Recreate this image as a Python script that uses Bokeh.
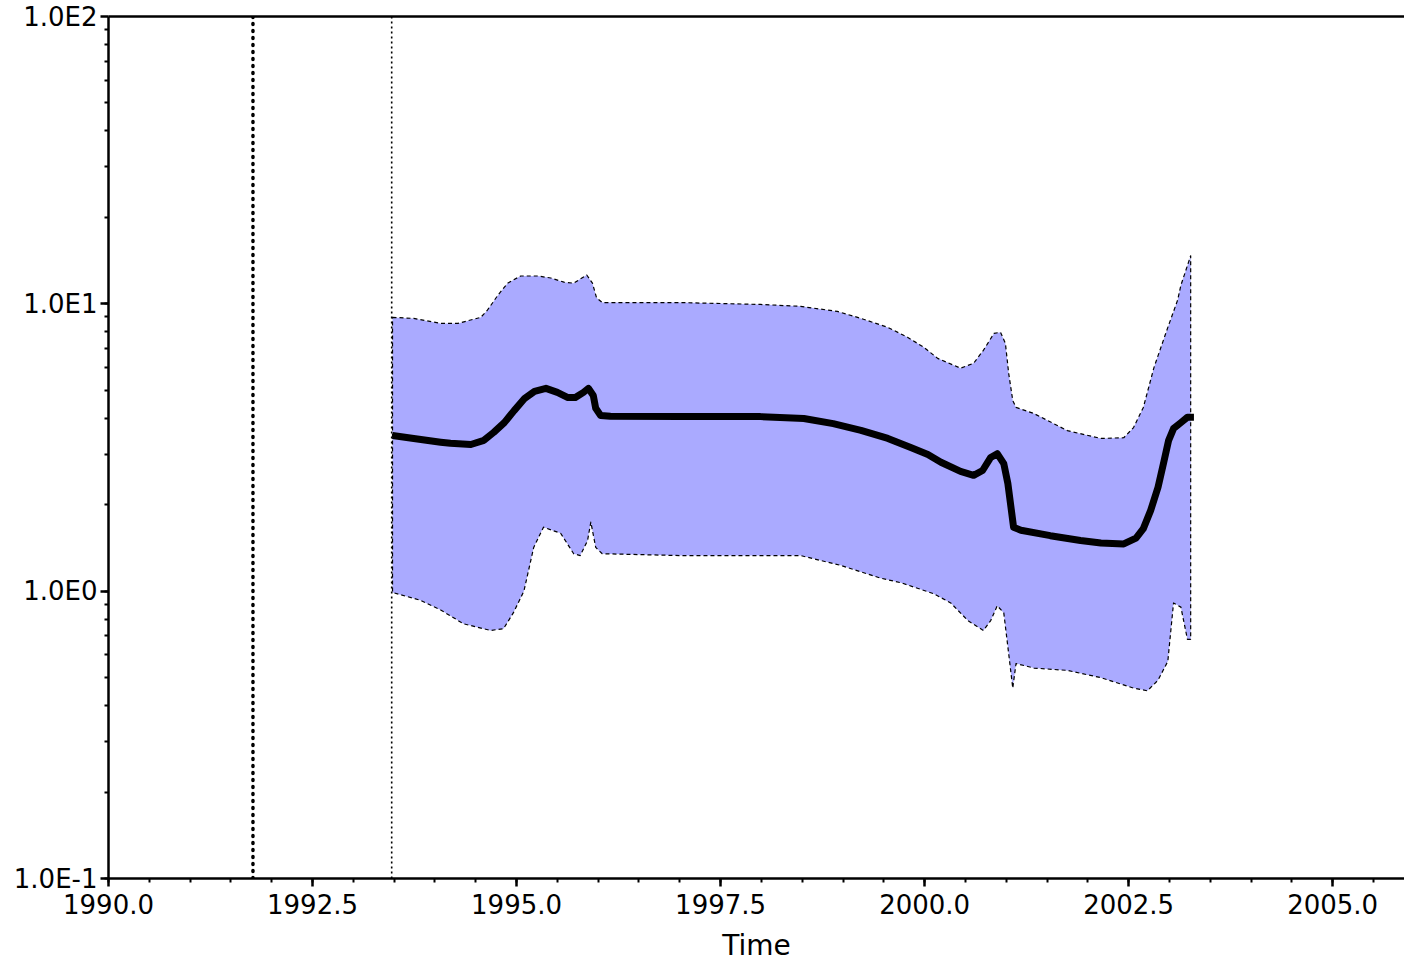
from bokeh.plotting import figure
from bokeh.models import (Range1d, FixedTicker, PrintfTickFormatter,
                          CustomJSTickFormatter, LinearAxis, Span)
from bokeh.embed import file_html
from bokeh.resources import INLINE

# ---- data (time in years, population size) ----
median_t = [1993.48, 1993.74, 1994.07, 1994.19, 1994.44, 1994.60, 1994.72,
            1994.85, 1994.97, 1995.10, 1995.22, 1995.36, 1995.50, 1995.63,
            1995.72, 1995.82, 1995.88, 1995.94, 1995.97, 1996.03, 1996.15,
            1997.01, 1997.99, 1998.52, 1998.88, 1999.22, 1999.55, 1999.83,
            2000.04, 2000.20, 2000.44, 2000.60, 2000.71, 2000.81, 2000.89,
            2000.97, 2001.02, 2001.09, 2001.18, 2001.54, 2001.91, 2002.16,
            2002.44, 2002.59, 2002.68, 2002.77, 2002.86, 2002.93, 2002.99,
            2003.05, 2003.14, 2003.22, 2003.30]
median_v = [3.48, 3.40, 3.30, 3.27, 3.24, 3.35, 3.57,
            3.86, 4.25, 4.69, 4.96, 5.08, 4.92, 4.72,
            4.72, 4.92, 5.08, 4.80, 4.33, 4.09, 4.06,
            4.05, 4.05, 3.99, 3.83, 3.63, 3.40, 3.16,
            2.99, 2.81, 2.61, 2.53, 2.63, 2.92, 3.01,
            2.78, 2.37, 1.67, 1.63, 1.56, 1.50, 1.47,
            1.46, 1.53, 1.65, 1.91, 2.30, 2.81, 3.35,
            3.68, 3.86, 4.03, 4.03]

upper_t = [1993.48, 1993.74, 1994.07, 1994.28, 1994.56, 1994.64, 1994.77,
           1994.89, 1995.05, 1995.26, 1995.42, 1995.58, 1995.70, 1995.78,
           1995.86, 1995.93, 1995.98, 1996.05, 1997.01, 1997.99, 1998.48,
           1998.93, 1999.22, 1999.55, 1999.79, 1999.99, 2000.16, 2000.44,
           2000.60, 2000.72, 2000.85, 2000.93, 2000.99, 2001.03, 2001.08,
           2001.12, 2001.34, 2001.75, 2002.16, 2002.44, 2002.56, 2002.68,
           2002.81, 2002.98, 2003.10, 2003.14, 2003.26]
upper_v = [8.97, 8.90, 8.55, 8.55, 8.97, 9.48, 10.7,
           11.8, 12.5, 12.5, 12.3, 11.9, 11.8, 12.2,
           12.6, 11.8, 10.5, 10.1, 10.1, 9.95, 9.80,
           9.41, 8.90, 8.28, 7.65, 7.06, 6.46, 5.97,
           6.21, 6.89, 7.89, 7.96, 7.28, 5.73, 4.61,
           4.36, 4.15, 3.62, 3.40, 3.42, 3.71, 4.36,
           6.00, 8.28, 10.3, 11.6, 14.7]

lower_t = [1993.48, 1993.82, 1994.07, 1994.35, 1994.68, 1994.84, 1994.96,
           1995.09, 1995.21, 1995.33, 1995.54, 1995.70, 1995.78, 1995.87,
           1995.91, 1995.97, 1996.05, 1997.01, 1998.48, 1998.97, 1999.46,
           1999.71, 2000.11, 2000.32, 2000.53, 2000.72, 2000.81, 2000.89,
           2000.97, 2001.02, 2001.08, 2001.12, 2001.34, 2001.75, 2002.16,
           2002.56, 2002.73, 2002.86, 2002.98, 2003.05, 2003.14, 2003.22,
           2003.26]
lower_v = [0.99, 0.93, 0.86, 0.77, 0.73, 0.74, 0.84,
           1.00, 1.42, 1.67, 1.59, 1.35, 1.33, 1.50,
           1.74, 1.42, 1.35, 1.33, 1.33, 1.23, 1.11,
           1.07, 0.98, 0.91, 0.79, 0.73, 0.79, 0.89,
           0.84, 0.64, 0.46, 0.56, 0.54, 0.53, 0.50,
           0.46, 0.45, 0.49, 0.57, 0.91, 0.88, 0.68,
           0.68]

marker_thick = 1991.77   # heavy dotted vertical line
marker_thin = 1993.47    # thin dotted vertical line

x_major = [1990.0, 1992.5, 1995.0, 1997.5, 2000.0, 2002.5, 2005.0]
x_minor = [1990.0 + 0.5 * i for i in range(32)]
y_major = [0.1, 1.0, 10.0, 100.0]
y_minor = [m * 10.0 ** e for e in (-1, 0, 1) for m in range(1, 10)]

FONT = "DejaVu Sans"

p = figure(width=1404, height=964, output_backend="svg", toolbar_location=None,
           x_range=Range1d(1990.0, 2005.88), y_range=Range1d(0.1, 100.0),
           y_axis_type="log", min_border_left=108, min_border_top=16,
           min_border_right=0, min_border_bottom=86)
p.outline_line_color = None
p.xgrid.visible = False
p.ygrid.visible = False
p.background_fill_color = "white"
p.border_fill_color = "white"

# band (95% HPD)
band_x = upper_t + lower_t[::-1]
band_y = upper_v + lower_v[::-1]
p.patch(band_x, band_y, fill_color="#aaaaff", fill_alpha=1.0,
        line_color="black", line_width=1.2, line_dash="4 3", line_join="round")

# median
p.line(median_t, median_v, line_color="black", line_width=7,
       line_join="round", line_cap="butt")

# vertical markers
p.add_layout(Span(location=marker_thick, dimension="height", line_color="black",
                  line_width=3.5, line_dash="1 6", line_cap="round"))
p.add_layout(Span(location=marker_thin, dimension="height", line_color="black",
                  line_width=1.6, line_dash="2 3"))

# axes
xa = p.xaxis[0]
xa.ticker = FixedTicker(ticks=x_major, minor_ticks=x_minor)
xa.formatter = PrintfTickFormatter(format="%.1f")
xa.axis_label = "Time"
ya = p.yaxis[0]
ya.ticker = FixedTicker(ticks=y_major, minor_ticks=y_minor)
ya.formatter = CustomJSTickFormatter(
    code="return '1.0E' + Math.round(Math.log10(tick));")

for ax in (xa, ya):
    ax.axis_line_width = 2.5
    ax.axis_line_color = "black"
    ax.major_tick_line_width = 2.5
    ax.minor_tick_line_width = 2
    ax.major_tick_in = 0
    ax.minor_tick_in = 0
    ax.major_tick_out = 8
    ax.minor_tick_out = 4
    ax.major_label_text_font = FONT
    ax.major_label_text_font_size = "26px"
    ax.major_label_text_color = "black"
ya.major_label_standoff = 3
xa.major_label_standoff = 7
xa.axis_label_text_font = FONT
xa.axis_label_text_font_size = "28px"
xa.axis_label_text_font_style = "normal"
xa.axis_label_text_color = "black"
xa.axis_label_standoff = 12

top = LinearAxis(ticker=FixedTicker(ticks=[]), major_label_text_font_size="0px",
                 major_tick_out=0, minor_tick_out=0, major_label_standoff=0,
                 axis_line_width=2.5, axis_line_color="black")
p.add_layout(top, "above")

open("out.html", "w").write(file_html(p, INLINE))
